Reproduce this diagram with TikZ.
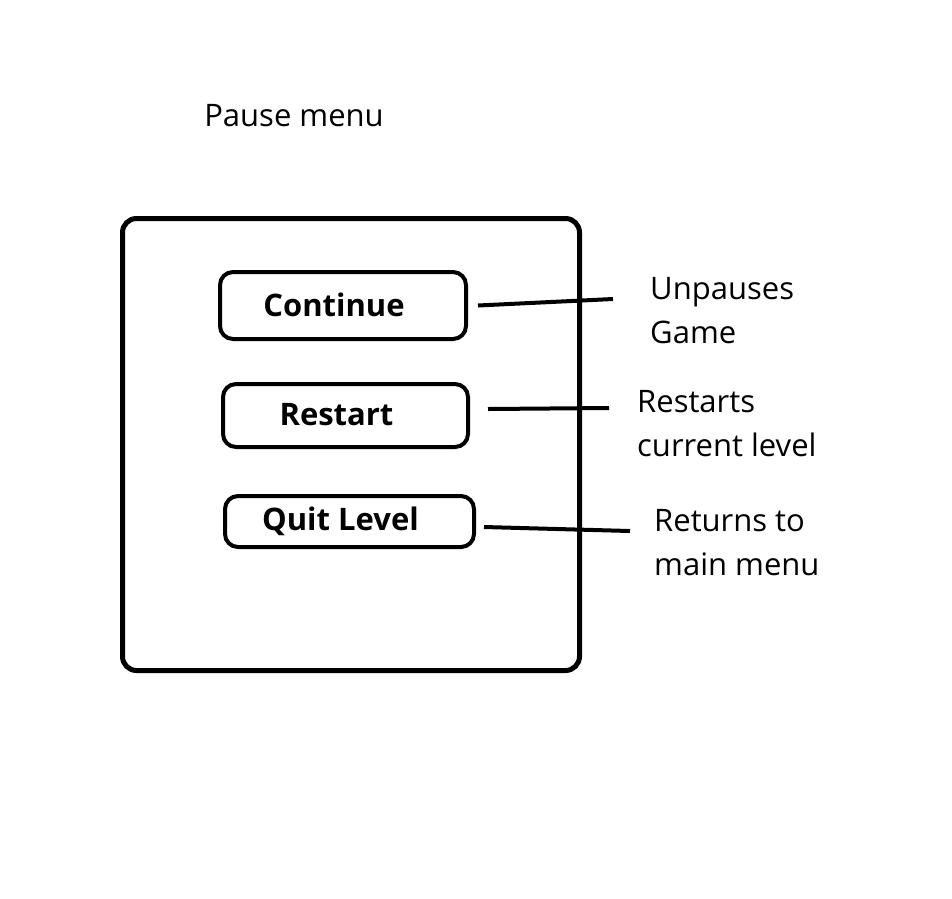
\documentclass[tikz,border=0pt]{standalone}
\usepackage{fontspec}
\setmainfont{Open Sans}
\tikzstyle{frame}=[draw,line width=5pt,rounded corners=14pt,minimum width=457pt,minimum height=452pt]
\tikzstyle{button}=[draw,line width=4pt,rounded corners=13pt,inner sep=0pt,font=\bfseries\fontsize{31}{36}\selectfont]
\tikzstyle{link}=[draw,line width=4pt]
\tikzstyle{note}=[anchor=base west,align=left,inner sep=0pt,font=\fontsize{31}{44}\selectfont]

\begin{document}
\begin{tikzpicture}[x=1pt,y=-1pt]
\useasboundingbox (0,0) rectangle (952,898);

% title and outer frame
\node[anchor=base,inner sep=0pt,font=\fontsize{31}{36}\selectfont] (title) at (294,126) {Pause menu};
\node[frame] (menu) at (351,444.5) {};

% the three buttons
\foreach \pos/\w/\h/\name/\text in {{(343,305.5)/246/67/cont/Continue},
                                    {(345.5,415.5)/245/63/rest/Restart},
                                    {(349.5,521.5)/249/51/quit/Quit Level}}
\node[button,minimum width=\w pt,minimum height=\h pt] (\name) at \pos {\raisebox{2pt}{\text}\hspace*{18pt}};

% free ends of the lines and the notes beside them
\coordinate (contEnd) at (613,299);
\coordinate (restEnd) at (609,408);
\coordinate (quitEnd) at (630,531);

\node[note] (contNote) at (650,343) {Unpauses\\Game};
\node[note] (restNote) at (637,456) {Restarts\\current level};
\node[note] (quitNote) at (654,575) {Returns to\\main menu};

\foreach \source/\dx/\dy/\dest in {cont/10/0/contEnd, rest/18/6.5/restEnd, quit/8/-5.5/quitEnd}
\path[link] ([xshift=\dx pt,yshift=\dy pt]\source.east) -- (\dest);

\end{tikzpicture}
\end{document}
